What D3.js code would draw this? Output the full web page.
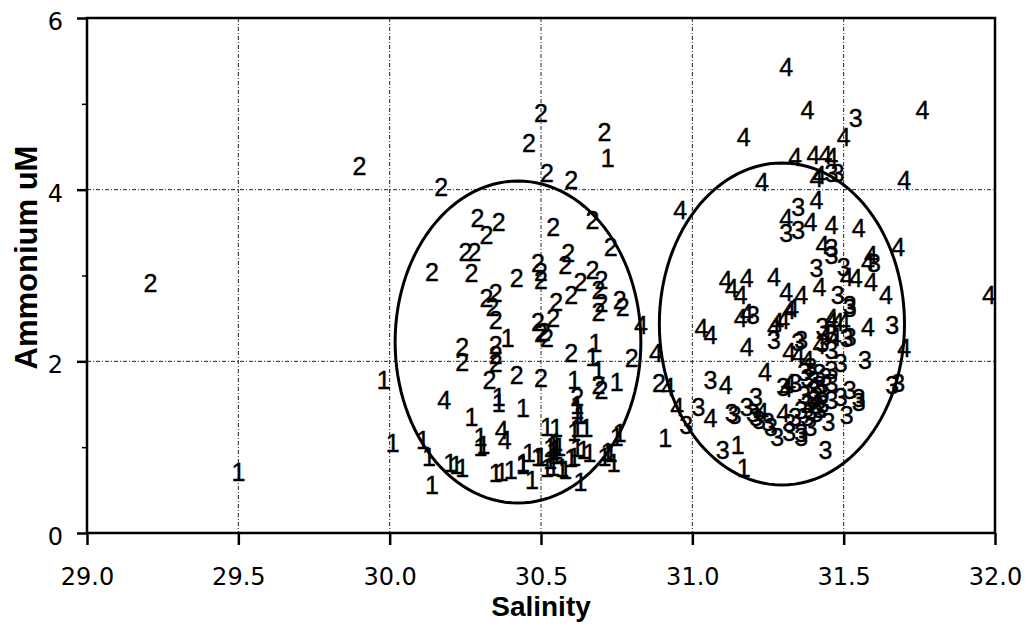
<!DOCTYPE html>
<html>
<head>
<meta charset="utf-8">
<script src="https://cdn.jsdelivr.net/npm/d3@7"></script>
<style>
  body { margin: 0; background: #fff; }
  svg { display: block; }
</style>
</head>
<body>
<svg width="1033" height="629"></svg>
<script>
// salinity, ammonium (uM) for each station group
const group1 = [
  [29.50,0.71],[29.98,1.78],[30.01,1.05],[30.72,4.37],[30.39,2.27],[30.68,2.21],[30.67,2.05],
  [30.69,1.90],[30.75,1.76],[30.61,1.78],[30.62,1.43],[30.63,1.37],[30.36,1.58],[30.44,1.46],
  [30.27,1.35],[30.30,1.12],[30.30,1.00],[30.11,1.08],[30.13,0.89],[30.20,0.82],[30.22,0.79],
  [30.24,0.76],[30.14,0.56],[30.35,0.70],[30.37,0.71],[30.40,0.73],[30.44,0.82],[30.46,0.93],
  [30.47,0.62],[30.50,0.89],[30.52,1.24],[30.55,1.22],[30.54,1.03],[30.55,0.97],[30.55,0.91],
  [30.56,1.00],[30.53,0.85],[30.52,0.76],[30.58,0.73],[30.61,0.89],[30.62,1.22],[30.65,1.22],
  [30.62,0.99],[30.64,0.97],[30.66,0.93],[30.63,0.59],[30.72,0.94],[30.73,0.93],[30.74,0.82],
  [30.76,1.17],[30.31,1.03],[30.44,0.79],[30.49,0.89],[30.54,0.77],[30.57,0.76],[30.60,0.87],
  [30.61,1.18],[30.62,1.49],[30.71,0.89],[30.75,1.12],[30.36,1.51],[30.91,1.11],[31.15,1.03],
  [31.17,0.76],[30.54,0.95],[30.55,1.06],[30.53,0.99]
];
const group2 = [
  [29.21,2.91],[29.90,4.27],[30.50,4.89],[30.46,4.54],[30.71,4.67],[30.52,4.19],[30.60,4.11],
  [30.17,4.03],[30.29,3.67],[30.36,3.62],[30.32,3.47],[30.54,3.57],[30.67,3.65],[30.73,3.33],
  [30.25,3.27],[30.28,3.27],[30.14,3.04],[30.27,3.03],[30.42,2.97],[30.49,3.15],[30.50,3.04],
  [30.50,2.95],[30.59,3.26],[30.58,3.12],[30.63,2.92],[30.67,3.06],[30.70,2.95],[30.69,2.83],
  [30.35,2.80],[30.32,2.74],[30.55,2.69],[30.60,2.77],[30.76,2.71],[30.70,2.68],[30.34,2.63],
  [30.35,2.48],[30.49,2.46],[30.54,2.50],[30.69,2.57],[30.77,2.63],[30.51,2.34],[30.52,2.27],
  [30.50,2.33],[30.24,2.17],[30.24,1.99],[30.35,2.19],[30.35,2.07],[30.35,1.98],[30.33,1.78],
  [30.42,1.84],[30.50,1.81],[30.60,2.10],[30.69,1.72],[30.70,1.67],[30.62,1.58],[30.80,2.04],
  [30.89,1.75]
];
const group3 = [
  [31.54,4.84],[31.46,4.19],[31.48,4.19],[31.35,3.80],[31.31,3.50],[31.35,3.53],[31.46,3.32],
  [31.46,3.24],[31.41,3.09],[31.50,3.10],[31.60,3.15],[31.48,2.77],[31.52,2.66],[31.20,2.54],
  [31.35,2.23],[31.51,2.27],[31.66,2.42],[31.43,2.40],[31.46,2.33],[31.52,2.28],[31.27,2.25],
  [31.36,2.25],[31.43,2.21],[31.46,2.13],[31.49,1.98],[31.57,2.02],[31.52,2.62],[31.06,1.78],
  [31.30,1.70],[31.34,1.75],[31.38,1.81],[31.42,1.86],[31.46,1.90],[31.39,1.93],[31.40,1.78],
  [31.42,1.72],[31.46,1.75],[31.66,1.72],[31.68,1.75],[31.37,1.61],[31.40,1.55],[31.43,1.63],
  [31.46,1.55],[31.49,1.58],[31.52,1.67],[31.55,1.57],[31.55,1.53],[31.51,1.37],[31.36,1.43],
  [31.34,1.35],[31.38,1.35],[31.41,1.40],[31.45,1.29],[31.39,1.24],[31.36,1.17],[31.32,1.18],
  [31.32,1.28],[31.28,1.12],[31.26,1.24],[31.25,1.29],[31.22,1.32],[31.21,1.35],[31.20,1.40],
  [31.18,1.47],[31.21,1.58],[31.13,1.40],[31.14,1.37],[31.02,1.47],[30.98,1.26],[31.10,0.97],
  [31.44,0.97],[31.36,1.12],[31.40,1.67],[31.38,1.50],[31.42,1.45],[31.37,1.88],[31.44,1.82],
  [31.41,1.60],[31.39,1.42],[31.43,1.50]
];
const group4 = [
  [30.18,1.55],[30.37,1.20],[30.38,1.08],[30.83,2.42],
  [31.31,5.43],[31.38,4.93],[31.50,4.61],[31.76,4.93],[31.17,4.61],[31.34,4.38],[31.40,4.40],
  [31.44,4.40],[31.46,4.38],[31.42,4.17],[31.41,4.14],[31.23,4.09],[31.70,4.11],[30.96,3.76],
  [31.41,3.88],[31.31,3.67],[31.39,3.62],[31.46,3.59],[31.55,3.55],[31.68,3.33],[31.43,3.36],
  [31.59,3.24],[31.98,2.77],[31.11,2.95],[31.13,2.85],[31.16,2.77],[31.18,2.97],[31.27,2.98],
  [31.51,2.98],[31.54,2.97],[31.59,2.92],[31.58,3.16],[31.31,2.81],[31.36,2.77],[31.42,2.87],
  [31.64,2.77],[31.33,2.62],[31.16,2.50],[31.03,2.39],[31.06,2.31],[31.27,2.40],[31.30,2.48],
  [31.18,2.17],[31.58,2.40],[31.46,2.46],[31.48,2.46],[31.47,2.28],[31.50,2.46],[31.70,2.16],
  [30.88,2.10],[30.92,1.70],[31.32,2.11],[31.35,2.07],[31.38,2.02],[31.24,1.88],[31.11,1.72],
  [31.32,1.75],[31.31,1.69],[30.95,1.47],[31.06,1.34],[31.23,1.41],[31.30,1.40],[31.32,2.60],
  [31.46,2.50],[31.28,2.46],[31.18,2.56],[31.42,2.19],[31.44,2.31]
];
const groups = [
  { label: "1", points: group1 },
  { label: "2", points: group2 },
  { label: "3", points: group3 },
  { label: "4", points: group4 }
];

// hand-drawn cluster ellipses, in data units
const clusters = [
  { cx: 30.424, cy: 2.225, rx: 0.406, ry: 1.876 },
  { cx: 31.296, cy: 2.435, rx: 0.405, ry: 1.876 }
];

const xTicks = [29.0, 29.5, 30.0, 30.5, 31.0, 31.5, 32.0];
const yTicks = [0, 2, 4, 6];
const yMinorTicks = [1, 3, 5];
const xGrid = [29.5, 30.0, 30.5, 31.0, 31.5];
const yGrid = [2, 4];

const plotLeft = 87, plotRight = 995, plotTop = 18, plotBottom = 533;
const svg = d3.select("svg");

const x = d3.scaleLinear().domain([29, 32]).range([plotLeft, plotRight]);
const y = d3.scaleLinear().domain([0, 6]).range([plotBottom, plotTop]);

// grid
const grid = svg.append("g")
  .attr("stroke", "#222")
  .attr("stroke-width", 1)
  .attr("stroke-dasharray", "4 2 1 2");
grid.selectAll("line.vx")
  .data(xGrid)
  .enter().append("line")
  .attr("x1", d => x(d)).attr("x2", d => x(d))
  .attr("y1", plotTop).attr("y2", plotBottom);
grid.selectAll("line.hy")
  .data(yGrid)
  .enter().append("line")
  .attr("x1", plotLeft).attr("x2", plotRight)
  .attr("y1", d => y(d)).attr("y2", d => y(d));

// ellipses
const ellipsePath = c => {
  const pts = d3.range(0, 120).map(i => {
    const a = i / 120 * 2 * Math.PI;
    return [c.cx + c.rx * Math.cos(a), c.cy + c.ry * Math.sin(a)];
  });
  return d3.line().x(d => x(d[0])).y(d => y(d[1])).curve(d3.curveLinearClosed)(pts);
};
svg.append("g")
  .selectAll("path")
  .data(clusters)
  .enter().append("path")
  .attr("d", ellipsePath)
  .attr("fill", "none")
  .attr("stroke", "#000")
  .attr("stroke-width", 3);

// point labels
svg.append("g")
  .selectAll("g")
  .data(groups)
  .enter().append("g")
  .each(function(g) {
    d3.select(this).selectAll("text")
      .data(g.points)
      .enter().append("text")
      .attr("x", d => x(d[0]))
      .attr("y", d => y(d[1]))
      .attr("dy", "0.36em")
      .attr("text-anchor", "middle")
      .style("font-family", "'Liberation Sans', Arial, sans-serif")
      .style("font-size", "25px")
      .style("fill", "#000")
      .style("stroke", "#000")
      .style("stroke-width", 0.4)
      .text(g.label);
  });

// frame
svg.append("rect")
  .attr("x", plotLeft).attr("y", plotTop)
  .attr("width", plotRight - plotLeft).attr("height", plotBottom - plotTop)
  .attr("fill", "none")
  .attr("stroke", "#000")
  .attr("stroke-width", 2.5);

// axes
const xAxis = svg.append("g")
  .attr("transform", `translate(0,${plotBottom})`)
  .call(d3.axisBottom(x).tickValues(xTicks).tickFormat(d3.format(".1f")).tickSize(12).tickSizeOuter(0).tickPadding(23));

const yAxis = svg.append("g")
  .attr("transform", `translate(${plotLeft},0)`)
  .call(d3.axisLeft(y).tickValues(yTicks).tickFormat(d3.format("d")).tickSize(10).tickSizeOuter(0).tickPadding(14));

svg.append("g")
  .attr("transform", `translate(${plotLeft},0)`)
  .call(d3.axisLeft(y).tickValues(yMinorTicks).tickFormat("").tickSize(5).tickSizeOuter(0))
  .call(g => g.select(".domain").remove())
  .selectAll("line").attr("stroke-width", 1.5);

[xAxis, yAxis].forEach(a => {
  a.select(".domain").remove();
  a.selectAll("line").attr("stroke", "#000").attr("stroke-width", 2.5);
  a.selectAll("text")
    .style("font-family", "'DejaVu Sans', Verdana, sans-serif")
    .style("font-size", "24px")
    .style("fill", "#000");
});
yAxis.selectAll("text").attr("dy", "0.48em");

// axis titles
svg.append("text")
  .attr("x", (plotLeft + plotRight) / 2)
  .attr("y", 616)
  .attr("text-anchor", "middle")
  .style("font-family", "'Liberation Sans', Arial, sans-serif")
  .style("font-weight", "bold")
  .style("font-size", "28px")
  .text("Salinity");

svg.append("text")
  .attr("transform", `translate(37,${(plotTop + plotBottom) / 2 - 18}) rotate(-90)`)
  .attr("text-anchor", "middle")
  .style("font-family", "'Liberation Sans', Arial, sans-serif")
  .style("font-weight", "bold")
  .style("font-size", "31px")
  .text("Ammonium uM");
</script>
</body>
</html>
